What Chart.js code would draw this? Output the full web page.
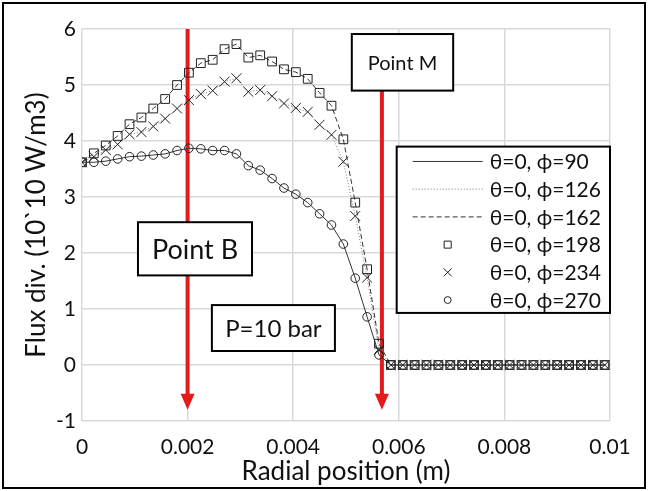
<!DOCTYPE html>
<html><head><meta charset="utf-8">
<script src="https://cdn.jsdelivr.net/npm/chart.js@4.4.0/dist/chart.umd.min.js"></script>
<style>
html,body{margin:0;padding:0;background:#fff;}
#wrap{position:relative;width:648px;height:491px;overflow:hidden;}
#frame{position:absolute;left:2px;top:2px;width:640px;height:483px;border:2px solid #000;pointer-events:none;}
canvas{position:absolute;left:0;top:0;}
</style></head><body>
<div id="wrap"><canvas id="c" width="648" height="491"></canvas><div id="frame"></div></div>
<script>
// Radial positions (m)
const radialPosition = [0, 0.000225, 0.00045, 0.000675, 0.0009, 0.001125, 0.00135, 0.001575, 0.0018, 0.002025,
  0.00225, 0.002475, 0.0027, 0.002925, 0.00315, 0.003375, 0.0036, 0.003825, 0.00405, 0.004275,
  0.0045, 0.004725, 0.00495, 0.005175, 0.0054, 0.005625, 0.00585, 0.006075, 0.0063, 0.006525,
  0.00675, 0.006975, 0.0072, 0.007425, 0.00765, 0.007875, 0.0081, 0.008325, 0.00855, 0.008775,
  0.009, 0.009225, 0.00945, 0.009675, 0.0099];
// Flux divergence (10^10 W/m3)
const phi90 = [3.62, 3.62, 3.64, 3.68, 3.72, 3.73, 3.75, 3.77, 3.83, 3.87, 3.86, 3.83, 3.83, 3.77, 3.56, 3.48, 3.33, 3.16, 3.05, 2.90,
  2.70, 2.50, 2.16, 1.55, 0.86, 0.18, 0, 0, 0, 0, 0, 0, 0, 0, 0, 0, 0, 0, 0, 0, 0, 0, 0, 0, 0];
const phi126 = [3.62, 3.72, 3.84, 3.94, 4.12, 4.16, 4.26, 4.40, 4.58, 4.73, 4.84, 4.90, 5.06, 5.12, 4.88, 4.91, 4.80, 4.67, 4.59, 4.52,
  4.29, 4.11, 3.63, 2.66, 1.56, 0.27, 0, 0, 0, 0, 0, 0, 0, 0, 0, 0, 0, 0, 0, 0, 0, 0, 0, 0, 0];
const phi162 = [3.62, 3.78, 3.92, 4.09, 4.30, 4.42, 4.58, 4.75, 5.00, 5.22, 5.39, 5.45, 5.64, 5.73, 5.49, 5.53, 5.42, 5.28, 5.23, 5.11,
  4.86, 4.63, 4.03, 2.90, 1.71, 0.38, 0, 0, 0, 0, 0, 0, 0, 0, 0, 0, 0, 0, 0, 0, 0, 0, 0, 0, 0];
const phi198 = [3.62, 3.78, 3.92, 4.09, 4.30, 4.42, 4.58, 4.75, 5.00, 5.22, 5.39, 5.45, 5.64, 5.73, 5.49, 5.53, 5.42, 5.28, 5.23, 5.11,
  4.86, 4.63, 4.03, 2.90, 1.71, 0.38, 0, 0, 0, 0, 0, 0, 0, 0, 0, 0, 0, 0, 0, 0, 0, 0, 0, 0, 0];
const phi234 = [3.62, 3.72, 3.84, 3.94, 4.12, 4.16, 4.26, 4.40, 4.58, 4.73, 4.84, 4.90, 5.06, 5.12, 4.88, 4.91, 4.80, 4.67, 4.59, 4.52,
  4.29, 4.11, 3.63, 2.66, 1.56, 0.27, 0, 0, 0, 0, 0, 0, 0, 0, 0, 0, 0, 0, 0, 0, 0, 0, 0, 0, 0];
const phi270 = [3.62, 3.62, 3.64, 3.68, 3.72, 3.73, 3.75, 3.77, 3.83, 3.87, 3.86, 3.83, 3.83, 3.77, 3.56, 3.48, 3.33, 3.16, 3.05, 2.90,
  2.70, 2.50, 2.16, 1.55, 0.86, 0.18, 0, 0, 0, 0, 0, 0, 0, 0, 0, 0, 0, 0, 0, 0, 0, 0, 0, 0, 0];
const seriesLabels = ['θ=0, ϕ=90', 'θ=0, ϕ=126', 'θ=0, ϕ=162', 'θ=0, ϕ=198', 'θ=0, ϕ=234', 'θ=0, ϕ=270'];
const xTickLabels = ['0', '0.002', '0.004', '0.006', '0.008', '0.01'];
const yTickLabels = ['-1', '0', '1', '2', '3', '4', '5', '6'];
const markerB = 0.002, markerM = 0.00568;

const FONT = 'Lato, "Liberation Sans", sans-serif';
const TXT = '#111';
const pts = arr => radialPosition.map((x, i) => ({x, y: arr[i]}));
const lineDs = (label, arr, dash, color) => ({label, data: pts(arr), showLine: true, borderColor: color, borderWidth: 1,
  borderDash: dash, pointRadius: 0, pointHoverRadius: 0, fill: false, tension: 0, order: 1});
const markDs = (label, arr, style, r) => ({label, data: pts(arr), showLine: false, pointStyle: style, pointRadius: r,
  pointBorderColor: '#222', pointBackgroundColor: 'rgba(0,0,0,0)', pointBorderWidth: 1, order: 0});

const datasets = [
  lineDs(seriesLabels[0], phi90, [], '#333'),
  lineDs(seriesLabels[1], phi126, [1, 2], '#777'),
  lineDs(seriesLabels[2], phi162, [5, 3], '#333'),
  markDs(seriesLabels[3], phi198, 'rect', 6.2),
  markDs(seriesLabels[4], phi234, 'crossRot', 7),
  markDs(seriesLabels[5], phi270, 'circle', 4.3)
];

function box(ctx, x1, y1, x2, y2, text, size) {
  ctx.save();
  ctx.fillStyle = '#fff';
  ctx.fillRect(x1, y1, x2 - x1, y2 - y1);
  ctx.strokeStyle = '#000'; ctx.lineWidth = 2;
  ctx.strokeRect(x1, y1, x2 - x1, y2 - y1);
  if (text) {
    ctx.fillStyle = TXT; ctx.font = size + 'px ' + FONT;
    ctx.textAlign = 'center'; ctx.textBaseline = 'middle';
    ctx.fillText(text, (x1 + x2) / 2, (y1 + y2) / 2 + 1);
  }
  ctx.restore();
}
function arrow(ctx, x, yTop, yTip) {
  ctx.save();
  ctx.strokeStyle = '#e31b1b'; ctx.fillStyle = '#e31b1b'; ctx.lineWidth = 4;
  ctx.beginPath(); ctx.moveTo(x, yTop); ctx.lineTo(x, yTip - 12); ctx.stroke();
  ctx.beginPath(); ctx.moveTo(x - 7, yTip - 16); ctx.lineTo(x + 7, yTip - 16); ctx.lineTo(x, yTip); ctx.closePath(); ctx.fill();
  ctx.restore();
}

const annotPlugin = {
  id: 'annot',
  beforeDatasetsDraw(chart) {
    const {ctx, scales: {x, y}} = chart;
    arrow(ctx, x.getPixelForValue(markerB), y.getPixelForValue(6), y.getPixelForValue(-0.8));
    arrow(ctx, x.getPixelForValue(markerM), y.getPixelForValue(4.9), y.getPixelForValue(-0.8));
  },
  afterDatasetsDraw(chart) {
    const {ctx, scales: {x, y}} = chart;
    const X = v => x.getPixelForValue(v), Y = v => y.getPixelForValue(v);
    box(ctx, X(0.00106), Y(2.55), X(0.00322), Y(1.6), 'Point B', 27);
    box(ctx, X(0.00511), Y(5.91), X(0.00703), Y(4.9), 'Point M', 20);
    box(ctx, X(0.00246), Y(1.07), X(0.00479), Y(0.25), 'P=10 bar', 24);
    // legend
    const lx1 = X(0.00596), ly1 = Y(3.9), lx2 = X(0.0100), ly2 = Y(0.93);
    box(ctx, lx1, ly1, lx2, ly2, null, 0);
    const n = chart.data.datasets.length;
    const rowH = (ly2 - ly1) / n;
    ctx.save();
    chart.data.datasets.forEach((d, i) => {
      const cy = ly1 + rowH * (i + 0.5) + 1;
      if (d.showLine) {
        ctx.save();
        ctx.strokeStyle = d.borderColor; ctx.lineWidth = 1; ctx.setLineDash(d.borderDash || []);
        ctx.beginPath(); ctx.moveTo(lx1 + 16, cy); ctx.lineTo(lx1 + 86, cy); ctx.stroke();
        ctx.restore();
      } else {
        ctx.save();
        ctx.strokeStyle = d.pointBorderColor; ctx.fillStyle = 'rgba(0,0,0,0)'; ctx.lineWidth = 1;
        Chart.helpers.drawPoint(ctx, {pointStyle: d.pointStyle, radius: d.pointRadius * 0.8, borderWidth: 1, rotation: 0}, lx1 + 51, cy);
        ctx.restore();
      }
      ctx.fillStyle = TXT; ctx.font = '21px ' + FONT; ctx.textAlign = 'left'; ctx.textBaseline = 'middle';
      ctx.fillText(d.label, lx1 + 93, cy + 1);
    });
    ctx.restore();
  }
};

new Chart(document.getElementById('c'), {
  type: 'scatter',
  data: {datasets},
  options: {
    responsive: false, animation: false, devicePixelRatio: 1,
    layout: {padding: {top: 29, right: 38, left: 0, bottom: 0}},
    plugins: {legend: {display: false}, tooltip: {enabled: false}},
    scales: {
      x: {
        type: 'linear', min: 0, max: 0.01,
        afterFit: s => { s.height = 70; },
        ticks: {stepSize: 0.002, padding: 14, color: TXT, font: {family: FONT, size: 21},
          callback: (v, i) => xTickLabels[i]},
        grid: {color: '#d9d9d9', lineWidth: 1.5, drawTicks: false},
        border: {display: false},
        title: {display: true, text: 'Radial position (m)', color: TXT, font: {family: FONT, size: 26}, padding: {top: 0, bottom: 4}}
      },
      y: {
        min: -1, max: 6,
        afterFit: s => { s.width = 82; },
        ticks: {stepSize: 1, padding: 6, color: TXT, font: {family: FONT, size: 21},
          callback: (v, i) => yTickLabels[i]},
        grid: {color: '#d9d9d9', lineWidth: 1.5, drawTicks: false},
        border: {display: false},
        title: {display: true, text: 'Flux div. (10`10 W/m3)', color: TXT, font: {family: FONT, size: 26}, padding: {top: 21, bottom: 0}}
      }
    }
  },
  plugins: [annotPlugin]
});
</script>
</body></html>
